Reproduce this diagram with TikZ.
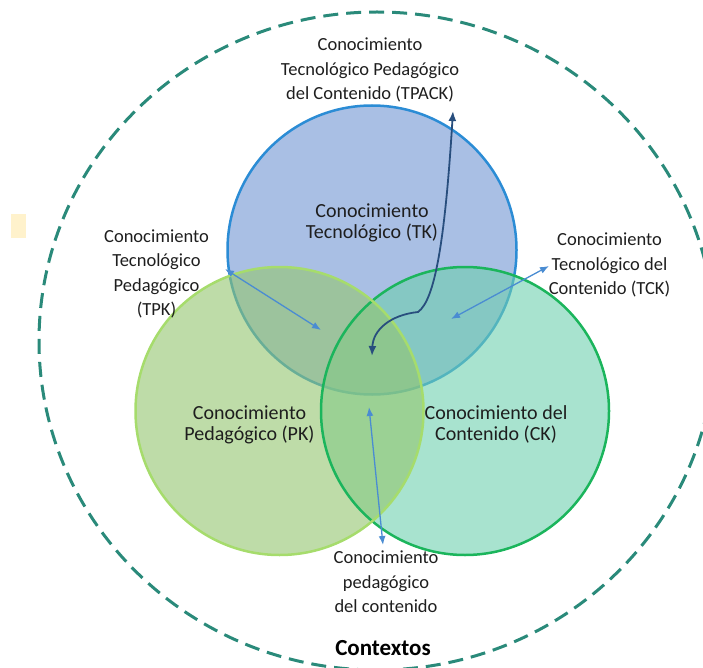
\documentclass[tikz,border=0pt]{standalone}
\usepackage{fontspec}
\setmainfont{Carlito}
\usepackage{tikz}
\usetikzlibrary{arrows.meta}

\definecolor{tkfill}{RGB}{112,148,210}
\definecolor{pkfill}{RGB}{147,197,110}
\definecolor{ckfill}{RGB}{110,208,175}
\definecolor{tkline}{RGB}{43,140,213}
\definecolor{pkline}{RGB}{166,220,108}
\definecolor{ckline}{RGB}{27,181,92}
\definecolor{contextline}{RGB}{42,138,122}
\definecolor{arrowblue}{RGB}{74,140,210}
\definecolor{curvenavy}{RGB}{40,78,125}
\definecolor{notefill}{RGB}{255,242,204}
\definecolor{textgray}{RGB}{30,30,30}

\begin{document}
\begin{tikzpicture}
    [x=1pt,y=-1pt,
    set/.style={line width=2.5pt},
    arc/.style={{Latex[length=9pt,width=7pt]}-{Latex[length=9pt,width=7pt]},draw=arrowblue,line width=1.3pt},
    tpackarc/.style={{Latex[length=10pt,width=8pt]}-{Latex[length=10pt,width=8pt]},draw=curvenavy,line width=1.8pt},
    smalltext/.style={align=center,inner sep=0pt,text=textgray,font=\fontsize{18.5}{24.5}\selectfont},
    bigtext/.style={align=center,inner sep=0pt,text=textgray,font=\fontsize{20}{21}\selectfont}]

    \useasboundingbox (0,0) rectangle (703,668);
    \fill [notefill] (11,214) rectangle (26,238);

    % contexts
    \draw [contextline, line width=3pt, dash pattern=on 15pt off 8pt] (377,341) ellipse [x radius=338, y radius=329];

    % the three sets
    \coordinate (tk) at (372,250);
    \coordinate (pk) at (279.5,411);
    \coordinate (ck) at (465,411);
    \filldraw [set, fill=tkfill, draw=tkline, fill opacity=0.6] (tk) circle [radius=144.5];
    \fill [ckfill, fill opacity=0.6] (ck) circle [radius=144];
    \fill [pkfill, fill opacity=0.6] (pk) circle [radius=144];
    \draw [set, ckline] (ck) circle [radius=144];
    \draw [set, pkline] (pk) circle [radius=144];

    \node (tklabel) [bigtext] at (372,223) {Conocimiento\\Tecnológico (TK)};
    \node (pklabel) [bigtext] at (249.5,424.5) {Conocimiento\\Pedagógico (PK)};
    \node (cklabel) [bigtext] at (496,424.5) {Conocimiento del\\Contenido (CK)};

    \node (tpack) [smalltext] at (370,70) {Conocimiento\\Tecnológico Pedagógico\\del Contenido (TPACK)};
    \node (tpk) [smalltext] at (156.5,274) {Conocimiento\\Tecnológico\\Pedagógico\\(TPK)};
    \node (tck) [smalltext] at (609.5,265) {Conocimiento\\Tecnológico del\\Contenido (TCK)};
    \node (pck) [smalltext] at (386,582) {Conocimiento\\pedagógico\\del contenido};
    \node (context) [inner sep=0pt,text=black,font=\fontsize{23}{23}\selectfont\bfseries] at (383,648.5) {Contextos};

    % arrow ends
    \coordinate (tpkA) at (225,269);
    \coordinate (tpkB) at (321,330);
    \coordinate (tckA) at (451,319);
    \coordinate (tckB) at (549,266);
    \coordinate (pckA) at (369,407);
    \coordinate (pckB) at (383,545);
    \coordinate (tpackA) at (372,356);
    \coordinate (tpackB) at (453,111);

    \draw [arc] (tpkA) -- (tpkB);
    \draw [arc] (tckA) -- (tckB);
    \draw [arc] (pckA) -- (pckB);
    \draw [tpackarc] (tpackA) .. controls (373,330) and (390,315) .. (418,312)
        .. controls (435,300) and (445,240) .. (tpackB);
\end{tikzpicture}
\end{document}
